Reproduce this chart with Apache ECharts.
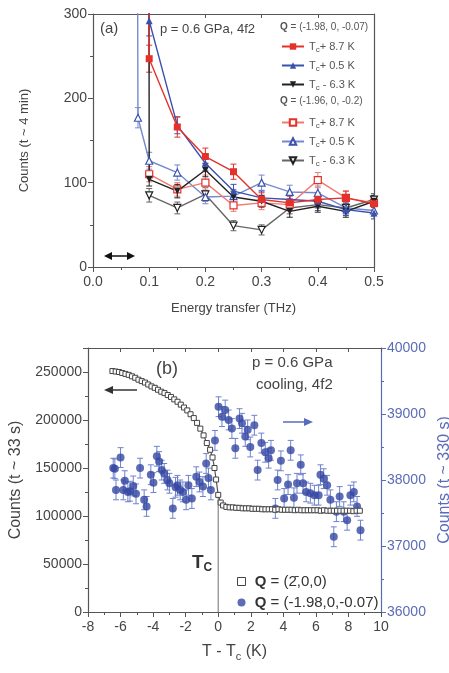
<!DOCTYPE html>
<html>
<head>
<meta charset="utf-8">
<script src="https://cdn.jsdelivr.net/npm/echarts@6/dist/echarts.min.js"></script>
<style>
html, body { margin: 0; padding: 0; background: #fff; }
#chart { width: 449px; height: 673px; }
</style>
</head>
<body>
<div id="chart"></div>
<script>
// ---- panel (a): [energy transfer (THz), counts], error bars in counts
const redQ1 = [[0.098, 1500], [0.1, 247], [0.15, 166], [0.2, 131], [0.25, 113], [0.3, 80], [0.35, 76], [0.4, 80], [0.45, 82], [0.5, 75]];
const redQ1Err = [0, 16, 12, 10, 9, 8, 8, 8, 8, 8];
const blueQ1 = [[0.098, 1500], [0.1, 292], [0.15, 168], [0.2, 123], [0.25, 90], [0.3, 82], [0.35, 80], [0.4, 78], [0.45, 68], [0.5, 64]];
const blueQ1Err = [0, 18, 10, 9, 8, 8, 8, 8, 7, 7];
const blackQ1 = [[0.098, 1500], [0.1, 104], [0.15, 90], [0.2, 115], [0.25, 83], [0.3, 78], [0.35, 66], [0.4, 72], [0.45, 66], [0.5, 78]];
const blackQ1Err = [0, 8, 8, 8, 7, 7, 7, 7, 7, 7];
const redQ2 = [[0.1, 110], [0.15, 92], [0.2, 100], [0.25, 73], [0.3, 76], [0.35, 74], [0.4, 103], [0.45, 82], [0.5, 76]];
const redQ2Err = [9, 8, 9, 7, 8, 7, 9, 8, 8];
const blueQ2 = [[0.075, 1500], [0.08, 177], [0.1, 126], [0.15, 112], [0.2, 83], [0.25, 84], [0.3, 100], [0.35, 89], [0.4, 88], [0.45, 70], [0.5, 67]];
const blueQ2Err = [0, 12, 10, 9, 8, 8, 9, 8, 8, 7, 7];
const blackQ2 = [[0.1, 85], [0.15, 70], [0.2, 86], [0.25, 49], [0.3, 44], [0.35, 70], [0.4, 74], [0.45, 70], [0.5, 80]];
const blackQ2Err = [8, 7, 8, 6, 6, 7, 7, 7, 7];

// ---- panel (b): [T - Tc (K), counts]
const squareCounts = [
  [-6.5, 251000], [-6.3, 250500], [-6.1, 250000], [-5.9, 249000], [-5.7, 248000], [-5.5, 247000],
  [-5.3, 245500], [-5.1, 244000], [-4.9, 242000], [-4.7, 240500], [-4.5, 239000], [-4.3, 237000],
  [-4.1, 235000], [-3.9, 233500], [-3.7, 231500], [-3.5, 229500], [-3.3, 228000], [-3.1, 226000],
  [-2.9, 224000], [-2.7, 221500], [-2.5, 219000], [-2.3, 216000], [-2.1, 213000], [-1.9, 210000],
  [-1.7, 206000], [-1.5, 202000], [-1.3, 197000], [-1.1, 191000], [-0.9, 184000], [-0.7, 176000],
  [-0.5, 169000], [-0.35, 161000], [-0.23, 150000], [-0.13, 138000], [0, 122000], [0.15, 114000],
  [0.3, 111000], [0.5, 109500], [0.7, 109000], [0.9, 109000], [1.1, 108500], [1.3, 108500],
  [1.5, 108000], [1.7, 108000], [1.9, 108000], [2.1, 107500], [2.3, 107500], [2.5, 107500],
  [2.7, 107000], [2.9, 107000], [3.1, 107000], [3.3, 107000], [3.5, 106500], [3.7, 107000],
  [3.9, 106500], [4.1, 106500], [4.3, 106500], [4.5, 106500], [4.7, 106000], [4.9, 106500],
  [5.1, 106000], [5.3, 106000], [5.5, 106000], [5.7, 106000], [5.9, 106000], [6.1, 106000],
  [6.3, 105500], [6.5, 106000], [6.7, 105500], [6.9, 105500], [7.1, 105500], [7.3, 105500],
  [7.5, 105500], [7.7, 105500], [7.9, 105500], [8.1, 105500], [8.3, 105000], [8.5, 105500], [8.7, 105500]
];
const circleCounts = [
  [-6.45, 38180], [-6.35, 38170], [-6.28, 37850], [-6.0, 38340], [-5.83, 37850], [-5.74, 37990],
  [-5.55, 37820], [-5.42, 37830], [-5.22, 37910], [-5.05, 37790], [-4.8, 38180], [-4.55, 37700],
  [-4.4, 37600], [-4.14, 38080], [-3.98, 37960], [-3.77, 38360], [-3.63, 38280], [-3.47, 38150],
  [-3.32, 38100], [-3.12, 38000], [-3.0, 37950], [-2.79, 37570], [-2.62, 37890], [-2.5, 37920],
  [-2.34, 37850], [-2.17, 37820], [-1.97, 37700], [-1.83, 37920], [-1.62, 37720], [-1.35, 38050],
  [-1.15, 37970], [-0.94, 37900], [-0.74, 38250], [-0.6, 38030], [-0.45, 37850], [-0.2, 38600],
  [0.02, 39110], [0.23, 38960], [0.43, 39060], [0.64, 38910], [0.84, 38780], [1.05, 38480],
  [1.31, 38930], [1.46, 38860], [1.66, 38660], [1.81, 38760], [1.97, 38500], [2.22, 38830],
  [2.42, 38150], [2.65, 38560], [2.89, 38420], [3.1, 38330], [3.24, 38450], [3.51, 37570],
  [3.65, 38000], [3.85, 38290], [4.05, 37720], [4.29, 37930], [4.45, 38450], [4.65, 37730],
  [4.84, 37950], [5.07, 38230], [5.21, 37950], [5.4, 37820], [5.66, 37800], [5.91, 37770],
  [6.17, 37770], [6.28, 38080], [6.48, 38020], [6.69, 37920], [6.89, 37700], [7.1, 37140],
  [7.26, 37520], [7.46, 37750], [7.71, 37520], [7.92, 37390], [8.12, 37770], [8.33, 37820],
  [8.53, 37600], [8.74, 37240]
];
const circleErr = 150;
const tcLine = [[0, 0], [0, 122000]];

const RED = '#e4312b', BLUE = '#3b52ad', BLACK = '#222';
const RED_L = '#f07a72', BLUE_L = '#7689cc', BLACK_L = '#666';
const PT_BLUE = '#3447a3';
const AXIS_BLUE = '#5a6cb8';
const FONT = 'Liberation Sans, Arial, sans-serif';
const DOWN = 'path://M0,0L10,0L5,9Z';

const chart = echarts.init(document.getElementById('chart'));

function errSeries(points, errs, color, xi, yi) {
  return {
    type: 'custom',
    xAxisIndex: xi,
    yAxisIndex: yi,
    clip: true,
    silent: true,
    z: 1,
    data: points.map((p, i) => [p[0], p[1], Array.isArray(errs) ? errs[i] : errs]),
    renderItem: function (params, api) {
      const x = api.value(0), y = api.value(1), e = api.value(2);
      if (!e) return null;
      const top = api.coord([x, y + e]);
      const bot = api.coord([x, y - e]);
      const w = 3;
      const st = { stroke: color, lineWidth: 1 };
      return {
        type: 'group',
        children: [
          { type: 'line', shape: { x1: top[0], y1: top[1], x2: bot[0], y2: bot[1] }, style: st },
          { type: 'line', shape: { x1: top[0] - w, y1: top[1], x2: top[0] + w, y2: top[1] }, style: st },
          { type: 'line', shape: { x1: bot[0] - w, y1: bot[1], x2: bot[0] + w, y2: bot[1] }, style: st }
        ]
      };
    }
  };
}

function lineA(name, data, color, lineColor, symbol, open) {
  return {
    name: name,
    type: 'line',
    xAxisIndex: 0,
    yAxisIndex: 0,
    data: data,
    symbol: symbol,
    symbolSize: 7,
    showAllSymbol: true,
    z: 3,
    lineStyle: { color: lineColor, width: 1.4 },
    itemStyle: open ? { color: '#fff', borderColor: color, borderWidth: 1.2 } : { color: color },
    emphasis: { disabled: true }
  };
}

const legendNames = {
  r1: '+ 8.7 K', b1: '+ 0.5 K', k1: ' - 6.3 K',
  r2: '+ 8.7 K', b2: '+ 0.5 K', k2: ' - 6.3 K'
};
const subRich = {
  t: { fontSize: 11, color: '#555', fontFamily: FONT, lineHeight: 14 },
  s: { fontSize: 8, color: '#555', fontFamily: FONT, padding: [7, 0, 0, 0] }
};
const legendFmt = name => '{t|T}{s|c}{t|' + legendNames[name] + '}';
const plain = v => String(v);

function axisBase(color) {
  return {
    axisLine: { show: true, onZero: false, lineStyle: { color: color, width: 1.2 } },
    axisTick: { show: true, length: 5, lineStyle: { color: color } },
    minorTick: { show: true, splitNumber: 2, length: 3, lineStyle: { color: color } },
    splitLine: { show: false },
    minorSplitLine: { show: false }
  };
}

const option = {
  animation: false,
  textStyle: { fontFamily: FONT },
  grid: [
    { left: 93, top: 14, width: 281, height: 253, outerBoundsMode: 'none', containLabel: false },
    { left: 88, top: 348, width: 293, height: 264, outerBoundsMode: 'none', containLabel: false }
  ],
  xAxis: [
    Object.assign(axisBase('#555'), {
      gridIndex: 0, type: 'value', min: 0, max: 0.5, interval: 0.1, position: 'bottom',
      axisLabel: { fontSize: 14, color: '#444', margin: 8, formatter: v => v.toFixed(1) },
      name: 'Energy transfer (THz)', nameLocation: 'middle', nameGap: 35,
      nameTextStyle: { fontSize: 13, color: '#444' }
    }),
    Object.assign(axisBase('#555'), {
      gridIndex: 0, type: 'value', min: 0, max: 0.5, interval: 0.1, position: 'top',
      axisTick: { show: true, inside: true, length: 4, lineStyle: { color: '#555' } },
      minorTick: { show: false },
      axisLabel: { show: false }
    }),
    Object.assign(axisBase('#555'), {
      gridIndex: 1, type: 'value', min: -8, max: 10, interval: 2, position: 'bottom',
      axisLabel: { fontSize: 14, color: '#444', margin: 8, formatter: plain },
      name: '{n|T - T}{s|c}{n| (K)}', nameLocation: 'middle', nameGap: 30,
      nameTextStyle: {
        rich: {
          n: { fontSize: 16, color: '#444', fontFamily: FONT },
          s: { fontSize: 11, color: '#444', fontFamily: FONT, padding: [9, 0, 0, 0] }
        }
      }
    }),
    Object.assign(axisBase('#555'), {
      gridIndex: 1, type: 'value', min: -8, max: 10, interval: 2, position: 'top',
      axisTick: { show: true, inside: true, length: 4, lineStyle: { color: '#555' } },
      minorTick: { show: false },
      axisLabel: { show: false }
    })
  ],
  yAxis: [
    Object.assign(axisBase('#555'), {
      gridIndex: 0, type: 'value', min: 0, max: 300, interval: 100, position: 'left',
      axisLabel: { fontSize: 14, color: '#444', margin: 6, formatter: plain },
      name: 'Counts (t ~ 4 min)', nameLocation: 'middle', nameGap: 62,
      nameTextStyle: { fontSize: 13, color: '#444' }
    }),
    Object.assign(axisBase('#555'), {
      gridIndex: 0, type: 'value', min: 0, max: 300, interval: 100, position: 'right',
      axisTick: { show: false }, minorTick: { show: false },
      axisLabel: { show: false }
    }),
    Object.assign(axisBase('#555'), {
      gridIndex: 1, type: 'value', min: 0, max: 275000, interval: 50000, position: 'left',
      axisLabel: { fontSize: 14, color: '#444', margin: 6, showMaxLabel: false, formatter: plain },
      name: 'Counts (t ~ 33 s)', nameLocation: 'middle', nameGap: 64,
      nameTextStyle: { fontSize: 16, color: '#444' }
    }),
    Object.assign(axisBase(AXIS_BLUE), {
      gridIndex: 1, type: 'value', min: 36000, max: 40000, interval: 1000, position: 'right',
      axisLabel: { fontSize: 14, color: AXIS_BLUE, margin: 6, formatter: plain },
      name: 'Counts (t ~ 330 s)', nameLocation: 'middle', nameGap: 50,
      nameRotate: 90,
      nameTextStyle: { fontSize: 16, color: AXIS_BLUE }
    })
  ],
  legend: [
    {
      data: ['r1', 'b1', 'k1'], orient: 'vertical', left: 276, top: 36, itemGap: 6,
      itemWidth: 22, itemHeight: 8, selectedMode: false,
      formatter: legendFmt, textStyle: { rich: subRich }
    },
    {
      data: ['r2', 'b2', 'k2'], orient: 'vertical', left: 276, top: 112, itemGap: 6,
      itemWidth: 22, itemHeight: 8, selectedMode: false,
      formatter: legendFmt, textStyle: { rich: subRich }
    },
    {
      data: [
        { name: 'sq', icon: 'rect', itemStyle: { color: '#fff', borderColor: '#444', borderWidth: 1 } },
        { name: 'circ', icon: 'circle' }
      ],
      orient: 'vertical', left: 232, top: 569, itemGap: 6, itemWidth: 8, itemHeight: 8,
      selectedMode: false,
      formatter: n => n === 'sq' ? ' {b|Q} = (2\u0304,0,0)' : ' {b|Q} = (-1.98,0,-0.07)',
      textStyle: {
        fontSize: 15, color: '#333',
        rich: { b: { fontSize: 15, fontWeight: 'bold', color: '#333', fontFamily: FONT } }
      }
    }
  ],
  graphic: [
    { type: 'text', left: 100, top: 21, style: { text: '(a)', fontSize: 15, fill: '#444', fontFamily: FONT } },
    { type: 'text', left: 160, top: 23, style: { text: 'p = 0.6 GPa, 4f2', fontSize: 13, fill: '#444', fontFamily: FONT } },
    {
      type: 'text', left: 280, top: 22,
      style: {
        text: '{b|Q} = (-1.98, 0, -0.07)', fontSize: 10, fill: '#555', fontFamily: FONT,
        rich: { b: { fontWeight: 'bold', fontSize: 10, fill: '#555', fontFamily: FONT } }
      }
    },
    {
      type: 'text', left: 280, top: 96,
      style: {
        text: '{b|Q} = (-1.96, 0, -0.2)', fontSize: 10, fill: '#555', fontFamily: FONT,
        rich: { b: { fontWeight: 'bold', fontSize: 10, fill: '#555', fontFamily: FONT } }
      }
    },
    // resolution arrow, panel (a)
    { type: 'line', shape: { x1: 109, y1: 256, x2: 130, y2: 256 }, style: { stroke: '#111', lineWidth: 1.5 } },
    { type: 'polygon', shape: { points: [[104, 256], [112, 252], [112, 260]] }, style: { fill: '#111' } },
    { type: 'polygon', shape: { points: [[135, 256], [127, 252], [127, 260]] }, style: { fill: '#111' } },
    // panel (b) texts
    { type: 'text', left: 156, top: 360, style: { text: '(b)', fontSize: 18, fill: '#444', fontFamily: FONT } },
    { type: 'text', left: 252, top: 355, style: { text: 'p = 0.6 GPa', fontSize: 15, fill: '#444', fontFamily: FONT } },
    { type: 'text', left: 256, top: 377, style: { text: 'cooling, 4f2', fontSize: 15, fill: '#444', fontFamily: FONT } },
    {
      type: 'text', left: 192, top: 553,
      style: {
        text: '{t|T}{s|C}', fontFamily: FONT,
        rich: {
          t: { fontSize: 19, fontWeight: 'bold', fill: '#333', fontFamily: FONT },
          s: { fontSize: 12, fontWeight: 'bold', fill: '#333', fontFamily: FONT, padding: [10, 0, 0, 0] }
        }
      }
    },
    { type: 'line', shape: { x1: 111, y1: 390, x2: 137, y2: 390 }, style: { stroke: '#333', lineWidth: 1.5 } },
    { type: 'polygon', shape: { points: [[104, 390], [113, 386], [113, 394]] }, style: { fill: '#333' } },
    { type: 'line', shape: { x1: 283, y1: 422, x2: 306, y2: 422 }, style: { stroke: AXIS_BLUE, lineWidth: 1.5 } },
    { type: 'polygon', shape: { points: [[313, 422], [304, 418], [304, 426]] }, style: { fill: AXIS_BLUE } }
  ],
  series: [
    errSeries(blackQ2, blackQ2Err, BLACK_L, 0, 0),
    errSeries(blueQ2, blueQ2Err, BLUE_L, 0, 0),
    errSeries(redQ2, redQ2Err, RED_L, 0, 0),
    errSeries(blackQ1, blackQ1Err, BLACK, 0, 0),
    errSeries(blueQ1, blueQ1Err, BLUE, 0, 0),
    errSeries(redQ1, redQ1Err, RED, 0, 0),
    lineA('k2', blackQ2, BLACK, BLACK_L, DOWN, true),
    lineA('b2', blueQ2, BLUE, BLUE_L, 'triangle', true),
    lineA('r2', redQ2, RED, RED_L, 'rect', true),
    lineA('k1', blackQ1, BLACK, BLACK, DOWN, false),
    lineA('b1', blueQ1, BLUE, BLUE, 'triangle', false),
    lineA('r1', redQ1, RED, RED, 'rect', false),
    {
      name: 'tc', type: 'line', xAxisIndex: 2, yAxisIndex: 2, data: tcLine,
      symbol: 'none', lineStyle: { color: '#888', width: 1.2 }, z: 1, silent: true
    },
    errSeries(circleCounts, circleErr, '#6f82cc', 2, 3),
    {
      name: 'circ', type: 'scatter', xAxisIndex: 2, yAxisIndex: 3, data: circleCounts,
      symbol: 'circle', symbolSize: 8, itemStyle: { color: PT_BLUE }, z: 3
    },
    {
      name: 'sq', type: 'line', xAxisIndex: 2, yAxisIndex: 2, data: squareCounts,
      symbol: 'rect', symbolSize: 5, showAllSymbol: true, z: 4,
      lineStyle: { color: '#555', width: 1.2 },
      itemStyle: { color: '#fff', borderColor: '#444', borderWidth: 1 }
    }
  ]
};
chart.setOption(option);
</script>
</body>
</html>
